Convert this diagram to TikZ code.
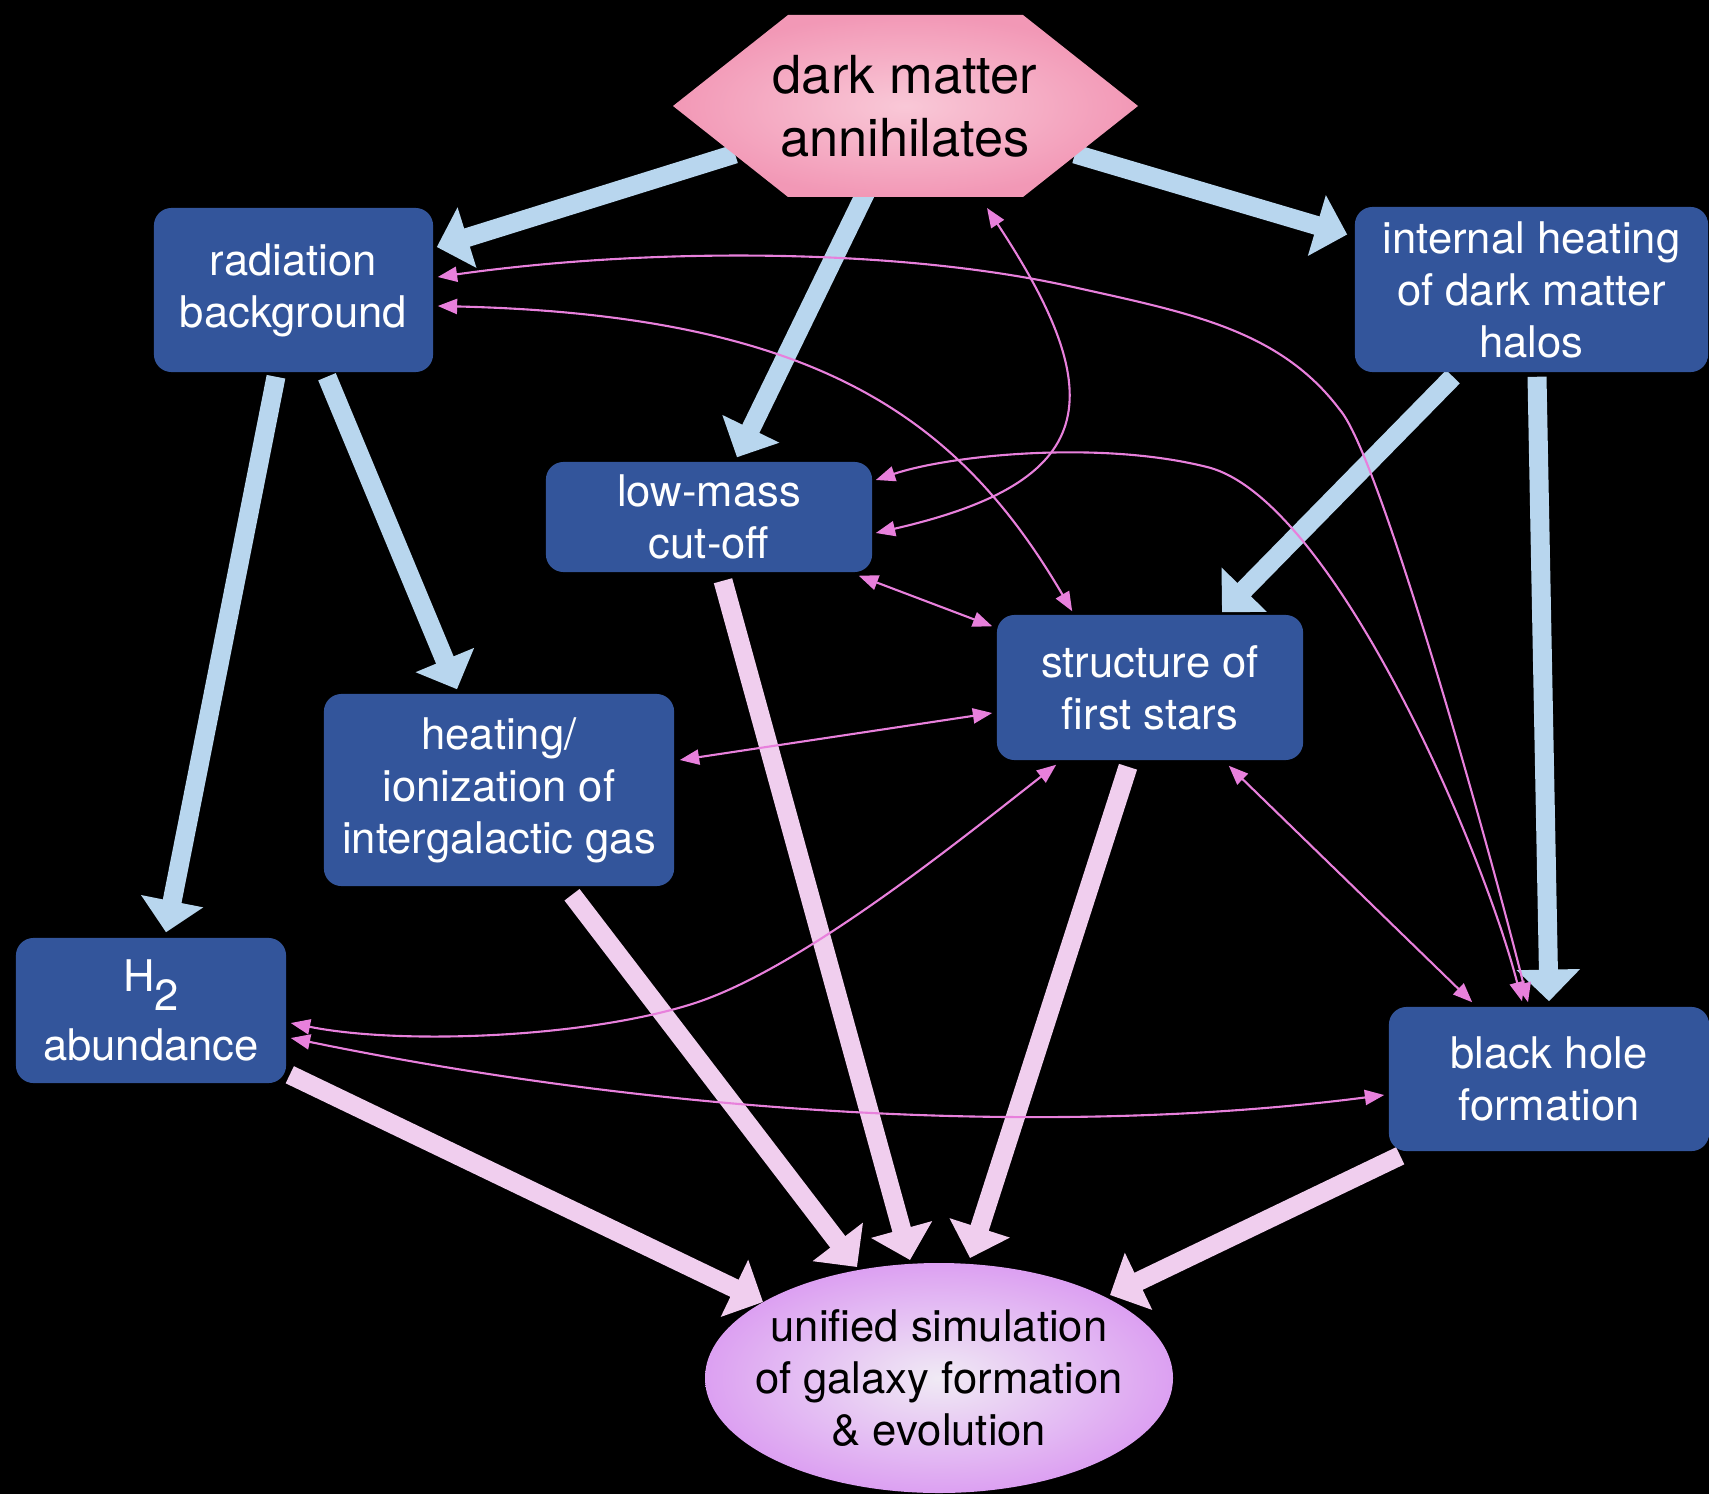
\documentclass[tikz,border=0pt]{standalone}
\usepackage{fontspec}
\setmainfont{TeX Gyre Heros}
\usetikzlibrary{arrows.meta,calc,backgrounds}
\definecolor{boxblue}{RGB}{51,85,155}
\definecolor{flowblue}{RGB}{184,214,238}
\definecolor{flowpink}{RGB}{240,206,238}
\definecolor{linkpink}{RGB}{232,128,220}
\definecolor{hexin}{RGB}{249,200,215}
\definecolor{hexout}{RGB}{242,152,182}
\definecolor{ellin}{RGB}{240,234,244}
\definecolor{ellout}{RGB}{220,160,242}
\tikzset{
  box/.style={fill=boxblue,rounded corners=5pt,text=white,align=center,
    font=\fontsize{12.4}{14.8}\selectfont,inner sep=0pt},
  bigflow/.style={line width=5.4pt,-{Triangle[length=9pt,width=17.5pt]}},
  blueflow/.style={bigflow,draw=flowblue},
  pinkflow/.style={bigflow,draw=flowpink},
  link/.style={draw=linkpink,line width=0.6pt,
    {Triangle[length=5.5pt,width=4.3pt]}-{Triangle[length=5.5pt,width=4.3pt]}}
}
\begin{document}
\begin{tikzpicture}[x=0.01cm,y=-0.01cm]
    \useasboundingbox (0,0) rectangle (1709,1494);
    % source
    \shade[inner color=hexin,outer color=hexout](673,106)--(788,15)--(1023,15)--(1138,106)--(1023,197)--(788,197)--cycle;
    \node[font=\fontsize{14.9}{18}\selectfont,align=center](dm) at (905,106){dark matter\\annihilates};
    % effects
    \node[box,minimum width=2.79cm,minimum height=1.64cm](rb) at (293.5,290){radiation\\background};
    \node[box,minimum width=3.53cm,minimum height=1.65cm](ih) at (1531.5,289.5){internal heating\\of dark matter\\halos};
    \node[box,minimum width=3.26cm,minimum height=1.10cm](lm) at (709,517){low-mass\\cut-off};
    \node[box,minimum width=3.06cm,minimum height=1.45cm](sf) at (1150,687.5){structure of\\first stars};
    \node[box,minimum width=3.50cm,minimum height=1.92cm](hi) at (499,790){heating/\\ionization of\\intergalactic gas};
    \node[box,minimum width=2.70cm,minimum height=1.45cm](h2) at (151,1010.5){H\raisebox{-5.4pt}{2}\\[5pt]abundance};
    \node[box,minimum width=3.20cm,minimum height=1.44cm](bh) at (1549,1079){black hole\\formation};
    % goal
    \shade[inner color=ellin,outer color=ellout](939,1378) ellipse [x radius=234,y radius=115];
    \node[align=center,font=\fontsize{12.4}{14.8}\selectfont](un) at (939,1378){unified simulation\\of galaxy formation\\\& evolution};

    \begin{scope}[on background layer]
        \fill[black](0,0) rectangle (1709,1494);
        \draw[blueflow]($(dm)+(-170,48)$)--($(rb.east)+(3,-43)$);
        \draw[blueflow]($(dm)+(170,48)$)--($(ih.west)+(-7,-55)$);
        \draw[blueflow]($(dm)+(-39,86)$)--($(lm.north)+(28,-4)$);
        \draw[blueflow]($(rb.south)+(-17.5,4)$)--($(h2.north)+(15,-5)$);
        \draw[blueflow]($(rb.south)+(33.5,4)$)--($(hi.north)+(-42,-4)$);
        \draw[blueflow]($(ih.south)+(-78.5,4)$)--($(sf.north)+(72,-2)$);
        \draw[blueflow]($(ih.south)+(5.5,4)$)--($(bh.north)+(0,-5)$);
        \draw[pinkflow]($(h2.south east)+(3,-9)$)--($(un)+(-176,-76)$);
        \draw[pinkflow]($(hi.south)+(73,8)$)--($(un)+(-82,-111)$);
        \draw[pinkflow]($(lm.south)+(14,8)$)--($(un)+(-29,-118)$);
        \draw[pinkflow]($(sf.south)+(-22,6)$)--($(un)+(31,-120)$);
        \draw[pinkflow]($(bh.south west)+(12,4)$)--($(un)+(171,-83)$);
    \end{scope}

    % feedbacks
    \draw[link]($(rb.east)+(4,-13)$)..controls(650,247)and(900,248)..(1073,287)
        ..controls(1190,313)and(1280,330)..(1340,410)
        ..controls(1380,456)and(1490,850)..($(bh.north)+(-21,-4)$);
    \draw[link]($(lm.east)+(3,-37)$)..controls(950,455)and(1100,440)..(1207,467)
        ..controls(1330,497)and(1480,840)..($(bh.north)+(-27,-5)$);
    \draw[link]($(dm)+(82,102)$)..controls(1113,399)and(1098,482)..($(lm.east)+(3,16)$);
    \draw[link]($(rb.east)+(4,16)$)..controls(820,315)and(960,420)..($(sf.north west)+(76,-3)$);
    \draw[link]($(lm.south east)+(-14,3)$)--($(sf.north west)+(-4,12)$);
    \draw[link]($(hi.east)+(5,-30)$)--($(sf.west)+(-4,25.5)$);
    \draw[link]($(sf.south west)+(60,4)$)..controls(960,840)and(800,970)..(692,1004)
        ..controls(584,1038)and(400,1045)..($(h2.east)+(4,12.5)$);
    \draw[link]($(sf.south east)+(-75,5)$)--($(bh.north west)+(84,-4)$);
    \draw[link]($(h2.east)+(4,27.5)$)..controls(640,1110)and(1035,1140)..($(bh.west)+(-4,16)$);
\end{tikzpicture}
\end{document}
